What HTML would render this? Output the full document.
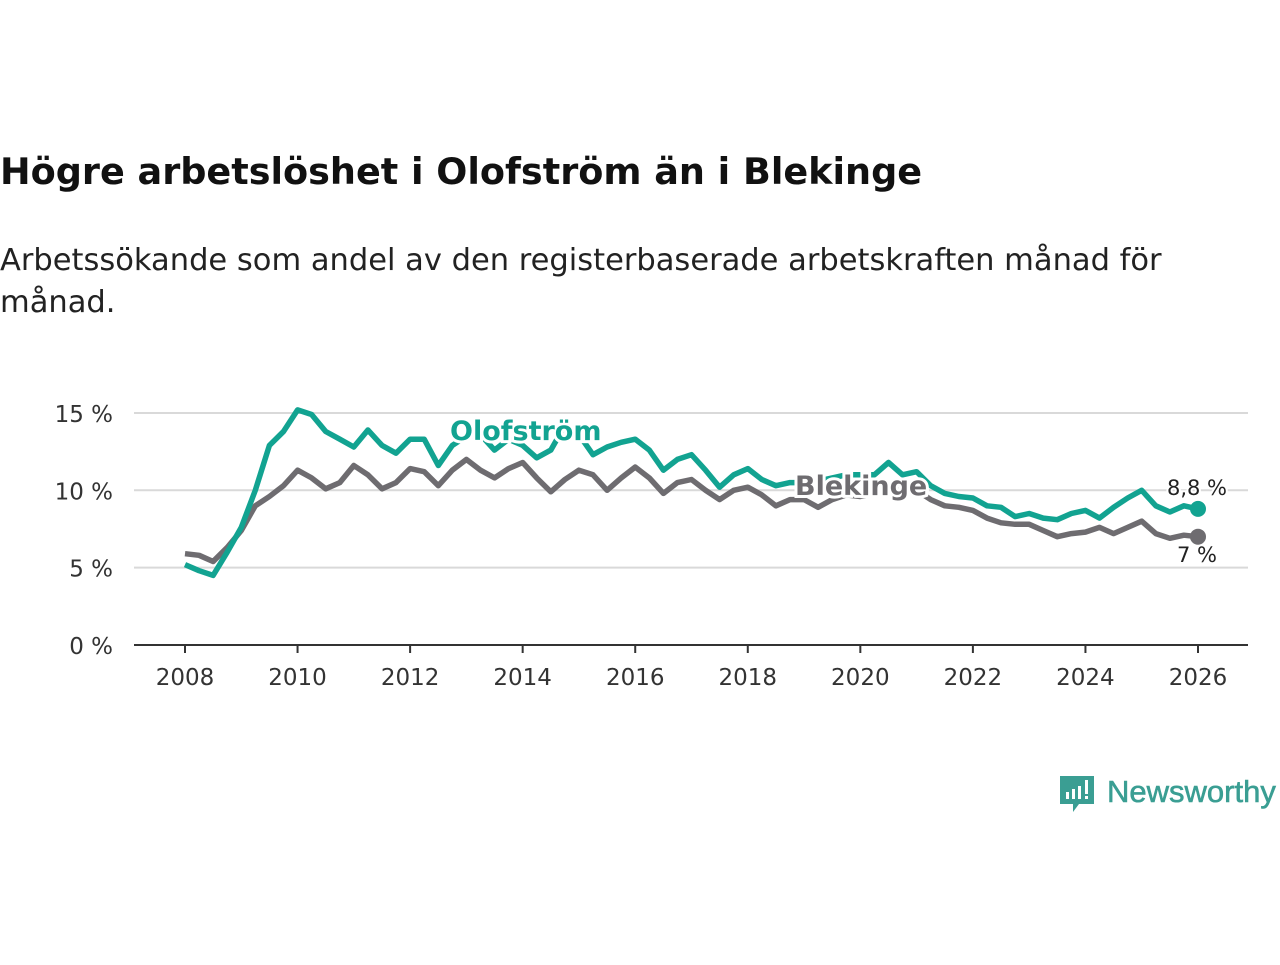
<!DOCTYPE html>
<html><head><meta charset="utf-8"><style>
body{margin:0;background:#fff;width:1280px;height:960px;overflow:hidden;font-family:"Liberation Sans","DejaVu Sans",sans-serif}
</style></head><body>
<svg id="chart" width="1280" height="960" xmlns="http://www.w3.org/2000/svg" font-family="'DejaVu Sans','Liberation Sans',sans-serif">
<text x="0" y="184" font-size="36.6" font-weight="bold" fill="#111">Högre arbetslöshet i Olofström än i Blekinge</text>
<text x="0" y="270" font-size="30.5" fill="#222">Arbetssökande som andel av den registerbaserade arbetskraften månad för</text>
<text x="0" y="312" font-size="30.5" fill="#222">månad.</text>
<g id="grid"></g><g id="xaxis"></g><g id="lines"></g><g id="labels"></g>
<g>
<path d="M1060 776h34v28h-15l-6 8v-8h-13z" fill="#3a9e93"/>
<rect x="1066" y="792" width="3" height="7" fill="#fff"/><rect x="1072" y="789" width="3" height="10" fill="#fff"/><rect x="1078" y="786" width="3" height="13" fill="#fff"/><rect x="1085" y="780" width="3" height="14" fill="#fff"/><rect x="1085" y="796" width="3" height="3" fill="#fff"/>
<text x="1107" y="802" font-size="31" fill="#3a9e93" stroke="#3a9e93" stroke-width="0.6" font-family="'Liberation Sans',sans-serif">Newsworthy</text>
</g>
</svg>
<script>
const years=[2008,2010,2012,2014,2016,2018,2020,2022,2024,2026];
const yTicks=[0,5,10,15];
const olofstrom=[5.2,4.8,4.5,6.0,7.6,10.0,12.9,13.8,15.2,14.9,13.8,13.3,12.8,13.9,12.9,12.4,13.3,13.3,11.6,12.9,13.5,13.6,12.6,13.3,12.9,12.1,12.6,14.2,13.6,12.3,12.8,13.1,13.3,12.6,11.3,12.0,12.3,11.3,10.2,11.0,11.4,10.7,10.3,10.5,10.5,10.6,10.8,11.0,11.0,11.0,11.8,11.0,11.2,10.3,9.8,9.6,9.5,9.0,8.9,8.3,8.5,8.2,8.1,8.5,8.7,8.2,8.9,9.5,10.0,9.0,8.6,9.0,8.8];
const blekinge=[5.9,5.8,5.4,6.3,7.4,9.0,9.6,10.3,11.3,10.8,10.1,10.5,11.6,11.0,10.1,10.5,11.4,11.2,10.3,11.3,12.0,11.3,10.8,11.4,11.8,10.8,9.9,10.7,11.3,11.0,10.0,10.8,11.5,10.8,9.8,10.5,10.7,10.0,9.4,10.0,10.2,9.7,9.0,9.4,9.4,8.9,9.4,9.7,9.6,9.8,10.0,10.0,10.0,9.4,9.0,8.9,8.7,8.2,7.9,7.8,7.8,7.4,7.0,7.2,7.3,7.6,7.2,7.6,8.0,7.2,6.9,7.1,7.0];
const NS="http://www.w3.org/2000/svg";
const X=t=>185+(t-2008)*(1198-185)/18;
const Y=v=>645-v*15.47;
function mk(tag,attrs,parent){const e=document.createElementNS(NS,tag);for(const k in attrs)e.setAttribute(k,attrs[k]);document.getElementById(parent).appendChild(e);return e;}
yTicks.forEach(v=>{
 if(v>0){const l=mk('line',{x1:134,x2:1248,y1:Y(v),y2:Y(v),stroke:'#d9d9d9','stroke-width':2},'grid');
 
 }
 const t=mk('text',{x:113,y:Y(v)+9,'text-anchor':'end','font-size':23,fill:'#333'},'grid');t.textContent=v+' %';
 
 
});
const ax=mk('line',{x1:134,x2:1248,y1:645,y2:645,stroke:'#333','stroke-width':2},'xaxis');


years.forEach(y=>{
 const tk=mk('line',{x1:X(y),x2:X(y),y1:645,y2:653,stroke:'#333','stroke-width':2},'xaxis');
 
 
 const t=mk('text',{x:X(y),y:685,'text-anchor':'middle','font-size':23,fill:'#333'},'xaxis');t.textContent=y;
 
 
});
function line(data,color,name){
 const d=data.map((v,i)=>(i?'L':'M')+X(2008+i*0.25).toFixed(1)+' '+Y(v).toFixed(1)).join(' ');
 const p=mk('path',{d:d,fill:'none',stroke:color,'stroke-width':5.5,'stroke-linejoin':'round'},'lines');
 
 
 const n=data.length-1;
 const c=mk('circle',{cx:X(2008+n*0.25),cy:Y(data[n]),r:8,fill:color},'lines');
 
 
}
line(blekinge,'#6e6c70','blekinge');
line(olofstrom,'#12a391','olofstrom');
function lab(txt,x,y,color,size,bold,name,anchor){
 const t=mk('text',{x:x,y:y,'font-size':size,fill:color,'font-weight':bold?'bold':'normal',stroke:'#fff','stroke-width':bold?6:4,'paint-order':'stroke','text-anchor':anchor||'start'},'labels');t.textContent=txt;
 
 
}
lab('Olofström',450,440,'#12a391',27,true,'olofstrom-label');
lab('Blekinge',795,495,'#6e6c70',27,true,'blekinge-label');
lab('8,8 %',1197,495,'#222',21,false,'olofstrom-value-label','middle');
lab('7 %',1197,562,'#222',21,false,'blekinge-value-label','middle');
</script>
</body></html>
